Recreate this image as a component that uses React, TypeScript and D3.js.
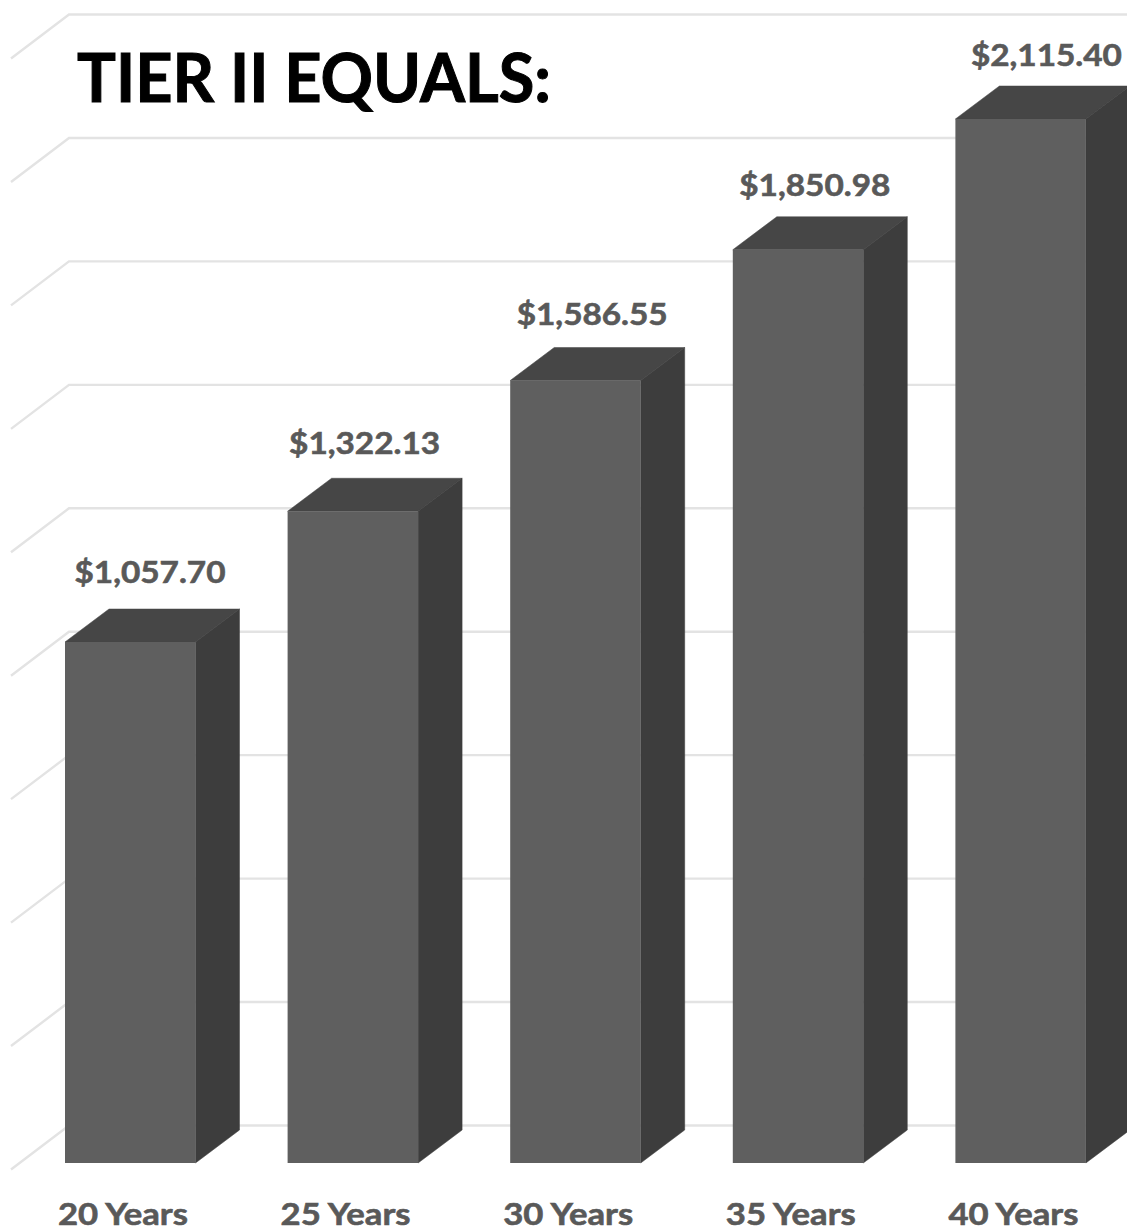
import React from "react";
import * as d3 from "d3";

const categories = ["20 Years", "25 Years", "30 Years", "35 Years", "40 Years"];
const values = [1057.7, 1322.13, 1586.55, 1850.98, 2115.4];
const valueLabels = ["$1,057.70", "$1,322.13", "$1,586.55", "$1,850.98", "$2,115.40"];
const gridTicks = [0, 250, 500, 750, 1000, 1250, 1500, 1750, 2000, 2250];
const title = "TIER II EQUALS:";

const W = 1127;
const H = 1231;
const FONT = "Lato, 'Open Sans', sans-serif";

const yFront = d3.scaleLinear().domain([0, 2115.4]).range([1165, 119]);
const yGrid = d3.scaleLinear().domain([0, 2250]).range([1125.5, 14.5]);
const BASE = 1163;
const BAR_W = 130.5;
const DX = 44;
const DY = 33;
const GRID_DX = 58;
const GRID_DY = 44;

const left = (i: number) => 65 + i * 222.6;
// value labels sit where the source chart's layout put them, bar by bar
const labelOffsetX = [85, 77, 82, 82, 91];
const labelOffsetY = [59, 57, 56, 54, 53];

export default function App() {
  const line = d3.line();
  return (
    <svg
      width={W}
      height={H}
      viewBox={`0 0 ${W} ${H}`}
      style={{ position: "absolute", left: 0, top: 0, background: "#fff" }}
    >
      {gridTicks.map((t) => {
        const y = yGrid(t);
        return (
          <path
            key={t}
            d={line([[11, y + GRID_DY], [11 + GRID_DX, y], [W, y]]) ?? ""}
            fill="none"
            stroke="#e3e3e3"
            strokeWidth={2.4}
          />
        );
      })}
      {categories.map((c, i) => {
        const x0 = left(i);
        const x1 = x0 + BAR_W;
        const top = yFront(values[i]);
        return (
          <g key={c}>
            <path d={line([[x0, top], [x0 + DX, top - DY], [x1 + DX, top - DY], [x1, top]]) + "Z"} fill="#464646" stroke="#464646" strokeWidth={0.5} />
            <path d={line([[x1, top], [x1 + DX, top - DY], [x1 + DX, BASE - DY], [x1, BASE]]) + "Z"} fill="#3d3d3d" stroke="#3d3d3d" strokeWidth={0.5} />
            <rect x={x0} y={top} width={BAR_W} height={BASE - top} fill="#5f5f5f" />
            <text
              x={x0 + labelOffsetX[i]}
              y={top - labelOffsetY[i]}
              textAnchor="middle"
              fontFamily={FONT}
              fontWeight={700}
              fontSize={31}
              fill="#595959"
              stroke="#595959"
              strokeWidth={0.6}
              textLength={151}
              lengthAdjust="spacingAndGlyphs"
            >
              {valueLabels[i]}
            </text>
            <text
              x={x0 + 58}
              y={1224.5}
              textAnchor="middle"
              fontFamily={FONT}
              fontWeight={700}
              fontSize={30}
              fill="#595959"
              stroke="#595959"
              strokeWidth={0.6}
              textLength={130}
              lengthAdjust="spacingAndGlyphs"
            >
              {c}
            </text>
          </g>
        );
      })}
      <text
        x={77}
        y={102}
        fontFamily={FONT}
        fontWeight={700}
        fontSize={66}
        fill="#000"
        stroke="#000"
        strokeWidth={1}
        textLength={474}
        lengthAdjust="spacingAndGlyphs"
      >
        {title}
      </text>
    </svg>
  );
}
